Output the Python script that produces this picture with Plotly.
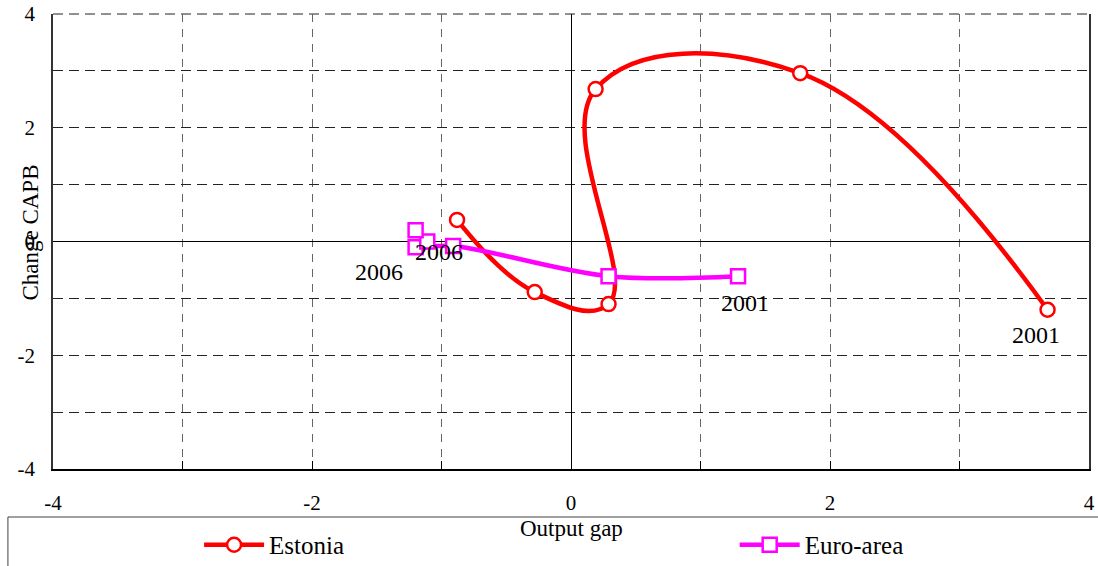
import plotly.graph_objects as go

# Data
years = ["2001", "2002", "2003", "2004", "2005", "2006"]
estonia_gap = [3.68, 1.77, 0.19, 0.29, -0.28, -0.88]
estonia_capb = [-1.20, 2.96, 2.68, -1.10, -0.89, 0.38]
euro_gap = [1.29, 0.29, -0.91, -1.20, -1.11, -1.20]
euro_capb = [-0.61, -0.61, -0.08, -0.10, 0.00, 0.20]

x_ticks = [-4, -3, -2, -1, 0, 1, 2, 3, 4]
x_ticktext = ["-4", "", "-2", "", "0", "", "2", "", "4"]
y_ticks = [-4, -3, -2, -1, 0, 1, 2, 3, 4]
y_ticktext = ["-4", "", "-2", "", "0", "", "2", "", "4"]

FONT = "Liberation Serif"

fig = go.Figure()
fig.add_trace(go.Scatter(
    x=estonia_gap, y=estonia_capb, name="Estonia", mode="lines+markers",
    line=dict(color="#FF0000", width=4.5, shape="spline", smoothing=1.2),
    marker=dict(symbol="circle", size=14, color="white",
                line=dict(color="#FF0000", width=2.5)),
    legend="legend",
))
fig.add_trace(go.Scatter(
    x=euro_gap, y=euro_capb, name="Euro-area", mode="lines+markers",
    line=dict(color="#FF00FF", width=4.5, shape="spline", smoothing=1.0),
    marker=dict(symbol="square", size=14, color="white",
                line=dict(color="#FF00FF", width=2.5)),
    legend="legend2",
))

annots = []
# year labels attached to the points with pixel offsets
annots.append(dict(x=estonia_gap[-1], y=estonia_capb[-1], text=years[-1],
                   xshift=-78, yshift=-52))
annots.append(dict(x=euro_gap[-1], y=euro_capb[-1], text=years[-1],
                   xshift=23, yshift=-22))
annots.append(dict(x=euro_gap[0], y=euro_capb[0], text=years[0],
                   xshift=7, yshift=-27))
annots.append(dict(x=estonia_gap[0], y=estonia_capb[0], text=years[0],
                   xshift=-12, yshift=-25))
for a in annots:
    a.update(xref="x", yref="y", showarrow=False,
             font=dict(family=FONT, size=24, color="black"))

# axis titles
annots.append(dict(x=-0.022, y=0.52, xref="paper", yref="paper",
                   xanchor="center", yanchor="middle",
                   text="Change CAPB", textangle=-90, showarrow=False,
                   font=dict(family=FONT, size=23, color="black")))
annots.append(dict(x=0.5, y=-0.13, xref="paper", yref="paper",
                   xanchor="center", yanchor="middle",
                   text="Output gap", showarrow=False,
                   font=dict(family=FONT, size=23, color="black")))

leg_common = dict(orientation="h", xanchor="left", yanchor="middle",
                  font=dict(family=FONT, size=25, color="black"),
                  bgcolor="rgba(0,0,0,0)", itemwidth=60)

fig.update_layout(
    width=1098, height=566,
    margin=dict(l=53, r=9, t=14, b=97, autoexpand=False),
    paper_bgcolor="white", plot_bgcolor="white",
    font=dict(family=FONT, size=21, color="black"),
    annotations=annots,
    showlegend=True,
    legend=dict(x=0.141, y=-0.167, **leg_common),
    legend2=dict(x=0.658, y=-0.167, **leg_common),
    shapes=[
        dict(type="rect", xref="paper", yref="paper",
             x0=-0.0435, x1=1.02, y0=-0.1055, y1=-0.25,
             line=dict(color="#404040", width=1), fillcolor="rgba(0,0,0,0)",
             layer="below"),
        # top dashed frame line (gridline at the top edge)
        dict(type="line", xref="x domain", yref="y domain",
             x0=0, x1=1, y0=1, y1=1,
             line=dict(color="#222222", width=1, dash="10px,6px"),
             layer="below"),
    ],
)
fig.update_xaxes(
    range=[-4, 4], tickvals=x_ticks, ticktext=x_ticktext, automargin=False,
    showgrid=True, gridcolor="#666666", griddash="8px,7px", gridwidth=1,
    zeroline=True, zerolinecolor="black", zerolinewidth=1,
    showline=True, linecolor="black", linewidth=1.5, mirror=False,
    ticks="inside", ticklen=8, tickcolor="black", ticklabeloverflow="allow",
    ticklabelstandoff=14, tickfont=dict(family=FONT, size=21),
)
fig.update_yaxes(
    range=[-4, 4], tickvals=y_ticks, ticktext=y_ticktext, automargin=False,
    showgrid=True, gridcolor="#222222", griddash="10px,6px", gridwidth=1,
    zeroline=True, zerolinecolor="black", zerolinewidth=1,
    showline=True, linecolor="#333333", linewidth=1.5, mirror=True,
    ticks="", ticklabelstandoff=12, ticklabeloverflow="allow",
    tickfont=dict(family=FONT, size=21),
)

fig.write_html(
    "out.html",
    config={"displayModeBar": False},
    post_script="document.body.style.margin='0px';"
                "document.body.style.overflow='hidden';",
)
